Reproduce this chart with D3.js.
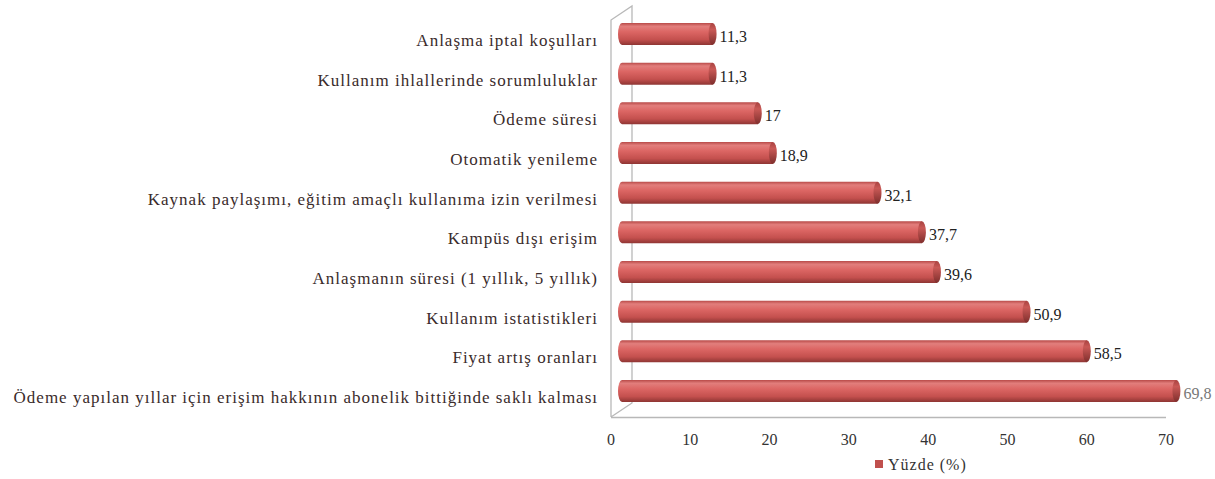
<!DOCTYPE html>
<html><head><meta charset="utf-8">
<script src="https://cdn.jsdelivr.net/npm/d3@7"></script>
<style>body{margin:0;background:#fff}svg{display:block}svg text{font-family:"Liberation Serif","Times New Roman",serif}</style>
</head><body>
<script>
const categories = [
  "Anlaşma iptal koşulları",
  "Kullanım ihlallerinde sorumluluklar",
  "Ödeme süresi",
  "Otomatik yenileme",
  "Kaynak paylaşımı, eğitim amaçlı kullanıma izin verilmesi",
  "Kampüs dışı erişim",
  "Anlaşmanın süresi (1 yıllık, 5 yıllık)",
  "Kullanım istatistikleri",
  "Fiyat artış oranları",
  "Ödeme yapılan yıllar için erişim hakkının abonelik bittiğinde saklı kalması"
];
const values = [11.3, 11.3, 17, 18.9, 32.1, 37.7, 39.6, 50.9, 58.5, 69.8];
const tickValues = [0, 10, 20, 30, 40, 50, 60, 70];
const seriesName = "Yüzde (%)";

const W = 1215, H = 479;
const svg = d3.select("body").append("svg").attr("width", W).attr("height", H);
const defs = svg.append("defs");
const grad = defs.append("linearGradient").attr("id","cyl").attr("x1",0).attr("y1",0).attr("x2",0).attr("y2",1);
[[0,"#b84a48"],[0.15,"#e27e7c"],[0.4,"#dc6664"],[0.75,"#c4504e"],[1,"#8e3533"]].forEach(([o,c])=>grad.append("stop").attr("offset",o).attr("stop-color",c));
const capGrad = defs.append("linearGradient").attr("id","cap").attr("x1",0).attr("y1",0).attr("x2",0).attr("y2",1);
[[0,"#a84240"],[0.3,"#c95956"],[1,"#7e2e2c"]].forEach(([o,c])=>capGrad.append("stop").attr("offset",o).attr("stop-color",c));

const x = d3.scaleLinear().domain([0, 70]).range([611, 1166]);
const y = d3.scalePoint().domain(categories).range([34, 391]);
const dx = 12;
const barH = 22;

// walls
const wall = svg.append("g").attr("stroke","#b8b8b8").attr("fill","none").attr("stroke-width",1.3);
wall.append("path").attr("d",`M${x(0)},417 L${x(0)},20 L${x(0)+21},6 L${x(0)+21},403 L${x(0)},417`);
wall.append("line").attr("x1",x(0)).attr("x2",x(70)).attr("y1",417.5).attr("y2",417.5);

// bars
const bars = svg.append("g");
categories.forEach((c,i)=>{
  const v = values[i];
  const cy = y(c);
  const x0 = x(0)+7, x1 = x(v)+dx;
  const r = 4;
  bars.append("path")
    .attr("d",`M${x0+r},${cy-barH/2} L${x1},${cy-barH/2} L${x1},${cy+barH/2} L${x0+r},${cy+barH/2} A${r},${barH/2} 0 0 1 ${x0+r},${cy-barH/2} Z`)
    .attr("fill","url(#cyl)");
  bars.append("ellipse").attr("cx",x1).attr("cy",cy).attr("rx",r).attr("ry",barH/2).attr("fill","url(#cap)");
  bars.append("text").attr("x",x1+7).attr("y",cy+8).attr("font-size",16).attr("fill",i===9?"#777":"#222")
    .text(String(v).replace(".",","));
  svg.append("text").attr("x",598).attr("y",cy+12).attr("text-anchor","end").attr("font-size",17)
    .attr("letter-spacing",1).attr("fill","#3a2b2b")
    .text(c);
});

// x axis labels
svg.append("g").selectAll("text").data(tickValues).join("text")
  .attr("x",d=>x(d)).attr("y",445).attr("text-anchor","middle").attr("font-size",16).attr("fill","#333")
  .text(d=>d);

// legend
svg.append("rect").attr("x",875).attr("y",460).attr("width",8).attr("height",8).attr("fill","#c0504d");
svg.append("text").attr("x",888).attr("y",470).attr("font-size",16).attr("letter-spacing",1).attr("fill","#333").text(seriesName);
</script>
</body></html>
